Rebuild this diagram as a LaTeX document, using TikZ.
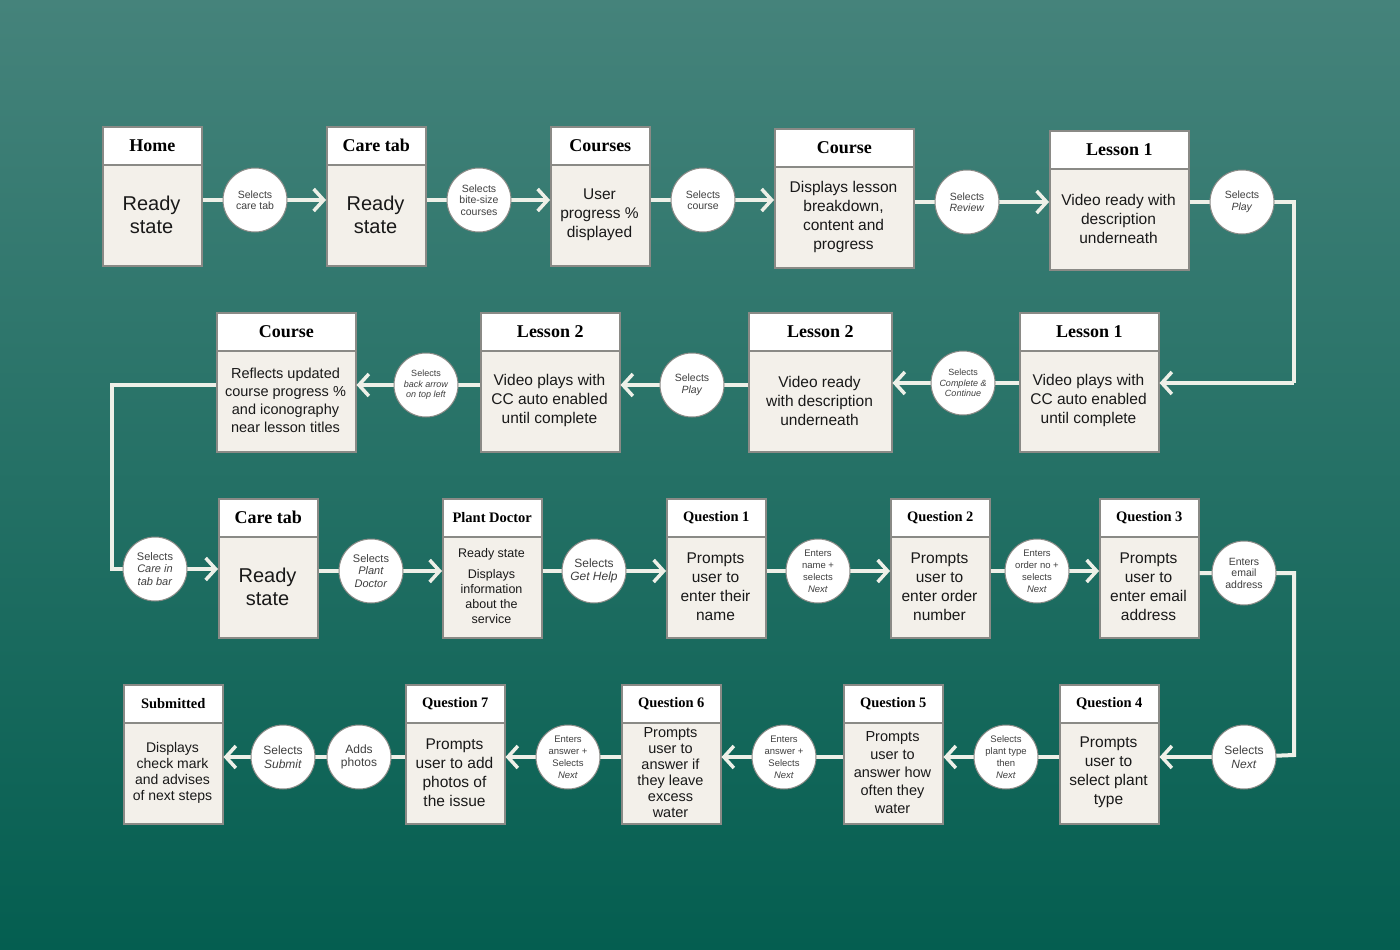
\documentclass[tikz,border=0pt]{standalone}
\usepackage{fontspec}
\setmainfont{Liberation Sans}
\newfontfamily\ser{Liberation Serif}
\usetikzlibrary{arrows.meta}
\definecolor{bgtop}{HTML}{45837B}
\definecolor{bgbot}{HTML}{045E50}
\definecolor{cardc}{HTML}{F3F0EA}
\definecolor{edgec}{HTML}{8A8A86}
\definecolor{linec}{HTML}{EEF0E8}
\tikzset{
  cardbox/.style={draw=edgec, line width=1.5pt, fill=cardc, inner sep=0pt},
  hdr/.style={draw=edgec, line width=1.5pt, fill=white, inner sep=0pt, minimum height=38pt, font=\ser\bfseries},
  circ/.style={circle, draw=edgec, line width=1pt, fill=white, minimum size=64pt, inner sep=0pt, align=center, font=\fontsize{10.5}{11.5}\selectfont, text=black!75},
  conn/.style={draw=linec, line width=4pt},
  arr/.style={conn, -{Straight Barb[length=10pt,width=22pt,line width=3.5pt]}},
  btxt/.style={align=center, font=\fontsize{15.5}{19}\selectfont, text=black!90}
}
% \card{id}{x1}{y1}{x2}{y2}{titlesize}{title}{bodyfont}{body}
\newcommand\card[9]{%
  \pgfmathsetmacro\cw{#4-#2}\pgfmathsetmacro\ch{#5-#3}%
  \pgfmathsetmacro\cx{(#2+#4)/2}\pgfmathsetmacro\cy{(#3+38+#5)/2}%
  \node[cardbox, minimum width=\cw pt, minimum height=\ch pt, anchor=north west] (#1) at (#2,#3) {};
  \node[hdr, minimum width=\cw pt, anchor=north, font=\ser\bfseries\fontsize{#6}{#6}\selectfont] (#1-h) at (#1.north) {#7};
  \node[btxt, font=#8] (#1-t) at (\cx,\cy) {#9};
}
\begin{document}
\begin{tikzpicture}[x=1pt,y=-1pt]
\shade[top color=bgtop, bottom color=bgbot] (0,0) rectangle (1400,950);
\useasboundingbox (0,0) rectangle (1400,950);
\def\big{\fontsize{20}{23}\selectfont}
\def\mid{\fontsize{15.5}{19}\selectfont}
\def\sml{\fontsize{12.5}{15}\selectfont}
% row 1
\card{home}{102}{126}{201}{265}{18}{Home}{\big}{Ready\\state}
\card{care}{326}{126}{425}{265}{18}{Care tab}{\big}{Ready\\state}
\card{courses}{550}{126}{649}{265}{18}{Courses}{\mid}{User\\progress \%\\displayed}
\card{course}{774}{128}{913}{267}{18}{Course}{\mid}{Displays lesson\\breakdown,\\content and\\progress}
\card{lesa}{1049}{130}{1188}{269}{18}{Lesson 1}{\mid}{Video ready with\\description\\underneath}
% row 2
\card{course2}{216}{312}{355}{451}{18}{Course}{\fontsize{14.5}{18}\selectfont}{Reflects updated\\course progress \%\\and iconography\\near lesson titles}
\card{lesb}{480}{312}{619}{451}{18}{Lesson 2}{\mid}{Video plays with\\CC auto enabled\\until complete}
\card{lesc}{748}{312}{891}{451}{18}{Lesson 2}{\mid}{Video ready\\with description\\underneath}
\card{lesd}{1019}{312}{1158}{451}{18}{Lesson 1}{\mid}{Video plays with\\CC auto enabled\\until complete}
% row 3
\card{care2}{218}{498}{317}{637}{18}{Care tab}{\big}{Ready\\state}
\card{pd}{442}{498}{541}{637}{14.5}{Plant Doctor}{\sml}{Ready state\\[6pt]Displays\\information\\about the\\service}
\card{qa}{666}{498}{765}{637}{14.5}{Question 1}{\mid}{Prompts\\user to\\enter their\\name}
\card{qb}{890}{498}{989}{637}{14.5}{Question 2}{\mid}{Prompts\\user to\\enter order\\number}
\card{qc}{1099}{498}{1198}{637}{14.5}{Question 3}{\mid}{Prompts\\user to\\enter email\\address}
% row 4
\card{sub}{123}{684}{222}{823}{14.5}{Submitted}{\fontsize{14}{16}\selectfont}{Displays\\check mark\\and advises\\of next steps}
\card{qg}{405}{684}{504}{823}{14.5}{Question 7}{\mid}{Prompts\\user to add\\photos of\\the issue}
\card{qf}{621}{684}{720}{823}{14.5}{Question 6}{\fontsize{14.5}{16}\selectfont}{Prompts\\user to\\answer if\\they leave\\excess\\water}
\card{qe}{843}{684}{942}{823}{14.5}{Question 5}{\fontsize{14.5}{18}\selectfont}{Prompts\\user to\\answer how\\often they\\water}
\card{qd}{1059}{684}{1158}{823}{14.5}{Question 4}{\mid}{Prompts\\user to\\select plant\\type}
% connectors drawn first, circles on top
\coordinate (r1) at (1294,200); \coordinate (r2) at (1294,383);
\coordinate (l1) at (112,385); \coordinate (l2) at (112,569);
\coordinate (r3) at (1294,573); \coordinate (r4) at (1294,755);
\path (255,200) coordinate (p1) (479,200) coordinate (p2) (703,200) coordinate (p3) (967,202) coordinate (p4) (1242,202) coordinate (p5)
 (426,385) coordinate (p6) (692,385) coordinate (p7) (963,383) coordinate (p8)
 (155,569) coordinate (p9) (371,571) coordinate (p10) (594,571) coordinate (p11) (818,571) coordinate (p12) (1037,571) coordinate (p13) (1244,573) coordinate (p14)
 (283,757) coordinate (p15) (359,757) coordinate (p16) (568,757) coordinate (p17) (784,757) coordinate (p18) (1006,757) coordinate (p19) (1244,757) coordinate (p20);
\draw[conn] (p1 -| home.east) -- (p1); \draw[arr] (p1) -- (p1 -| care.west);
\draw[conn] (p2 -| care.east) -- (p2); \draw[arr] (p2) -- (p2 -| courses.west);
\draw[conn] (p3 -| courses.east) -- (p3); \draw[arr] (p3) -- (p3 -| course.west);
\draw[conn] (p4 -| course.east) -- (p4); \draw[arr] (p4) -- (p4 -| lesa.west);
\draw[conn] (p5 -| lesa.east) -- (p5) -- (r1 |- p5) -- (r2); \draw[arr] (r2) -- (r2 -| lesd.east);
\draw[conn] (p8 -| lesd.west) -- (p8); \draw[arr] (p8) -- (p8 -| lesc.east);
\draw[conn] (p7 -| lesc.west) -- (p7); \draw[arr] (p7) -- (p7 -| lesb.east);
\draw[conn] (p6 -| lesb.west) -- (p6); \draw[arr] (p6) -- (p6 -| course2.east);
\draw[conn] (l1 -| course2.west) -- (l1) -- (l2) -- (p9); \draw[arr] (p9) -- (p9 -| care2.west);
\draw[conn] (p10 -| care2.east) -- (p10); \draw[arr] (p10) -- (p10 -| pd.west);
\draw[conn] (p11 -| pd.east) -- (p11); \draw[arr] (p11) -- (p11 -| qa.west);
\draw[conn] (p12 -| qa.east) -- (p12); \draw[arr] (p12) -- (p12 -| qb.west);
\draw[conn] (p13 -| qb.east) -- (p13); \draw[arr] (p13) -- (p13 -| qc.west);
\draw[conn] (p14 -| qc.east) -- (p14) -- (r3) -- (r4) -- (p20); \draw[arr] (p20) -- (p20 -| qd.east);
\draw[conn] (p19 -| qd.west) -- (p19); \draw[arr] (p19) -- (p19 -| qe.east);
\draw[conn] (p18 -| qe.west) -- (p18); \draw[arr] (p18) -- (p18 -| qf.east);
\draw[conn] (p17 -| qf.west) -- (p17); \draw[arr] (p17) -- (p17 -| qg.east);
\draw[conn] (p16 -| qg.west) -- (p16) -- (p15); \draw[arr] (p15) -- (p15 -| sub.east);
% circles
\node[circ] (c1) at (p1) {Selects\\care tab};
\node[circ] (c2) at (p2) {Selects\\bite-size\\courses};
\node[circ] (c3) at (p3) {Selects\\course};
\node[circ] (c4) at (p4) {Selects\\\textit{Review}};
\node[circ] (c5) at (p5) {Selects\\\textit{Play}};
\node[circ, font=\fontsize{9}{10.5}\selectfont] (c6) at (p6) {Selects\\\textit{back arrow}\\\textit{on top left}};
\node[circ] (c7) at (p7) {Selects\\\textit{Play}};
\node[circ, font=\fontsize{9}{10.5}\selectfont] (c8) at (p8) {Selects\\\textit{Complete \&}\\\textit{Continue}};
\node[circ, font=\fontsize{11}{12.5}\selectfont] (c9) at (p9) {Selects\\\textit{Care in}\\\textit{tab bar}};
\node[circ, font=\fontsize{11}{12.5}\selectfont] (c10) at (p10) {Selects\\\textit{Plant}\\\textit{Doctor}};
\node[circ, font=\fontsize{12}{13.5}\selectfont] (c11) at (p11) {Selects\\\textit{Get Help}};
\node[circ, font=\fontsize{9.5}{12}\selectfont] (c12) at (p12) {Enters\\name +\\selects\\\textit{Next}};
\node[circ, font=\fontsize{9.5}{12}\selectfont] (c13) at (p13) {Enters\\order no +\\selects\\\textit{Next}};
\node[circ] (c14) at (p14) {Enters\\email\\address};
\node[circ, font=\fontsize{12}{13.5}\selectfont] (c15) at (p15) {Selects\\\textit{Submit}};
\node[circ, font=\fontsize{12}{13.5}\selectfont] (c16) at (p16) {Adds\\photos};
\node[circ, font=\fontsize{9.5}{12}\selectfont] (c17) at (p17) {Enters\\answer +\\Selects\\\textit{Next}};
\node[circ, font=\fontsize{9.5}{12}\selectfont] (c18) at (p18) {Enters\\answer +\\Selects\\\textit{Next}};
\node[circ, font=\fontsize{9.5}{12}\selectfont] (c19) at (p19) {Selects\\plant type\\then\\\textit{Next}};
\node[circ, font=\fontsize{12}{13.5}\selectfont] (c20) at (p20) {Selects\\\textit{Next}};
\end{tikzpicture}
\end{document}
